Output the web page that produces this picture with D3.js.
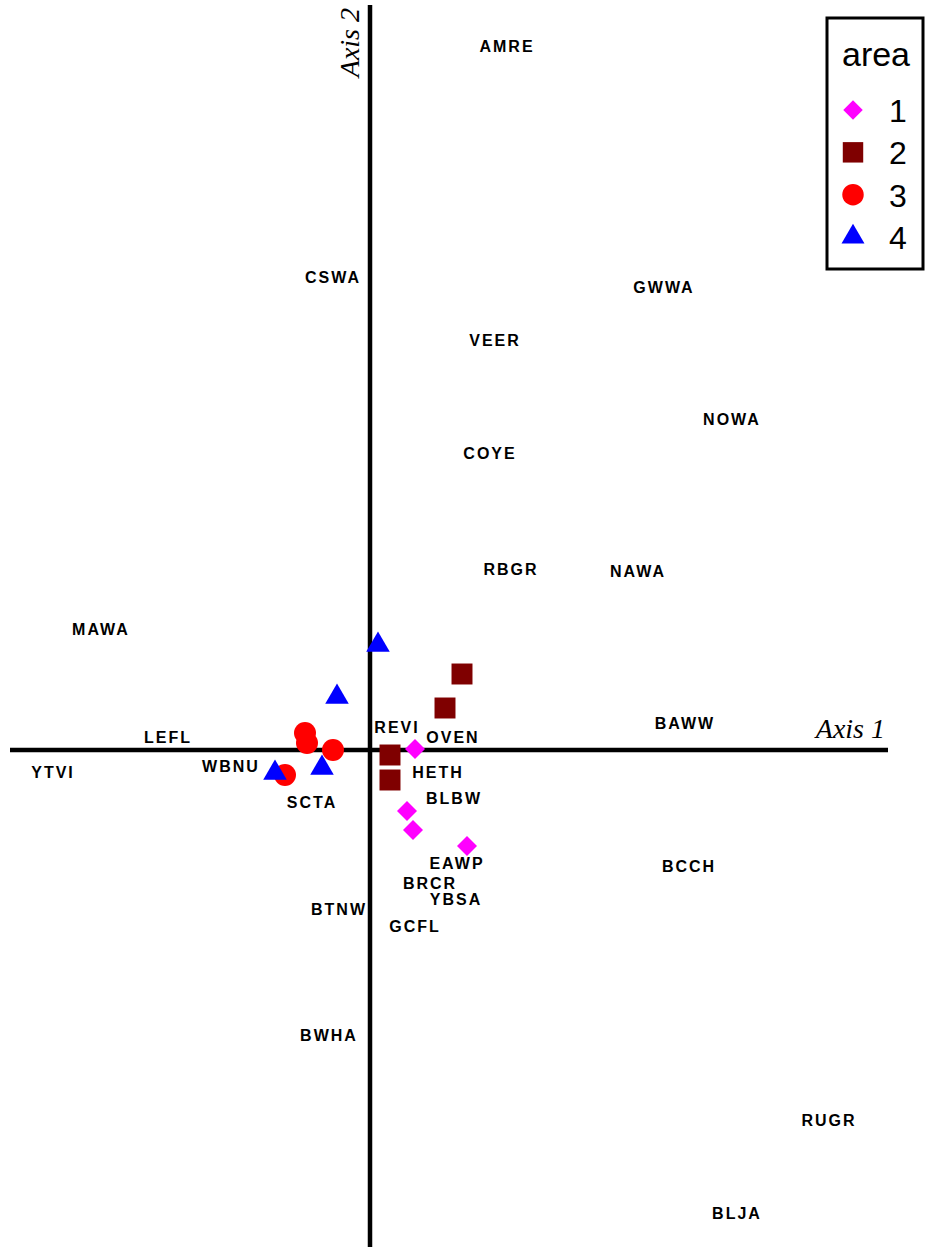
<!DOCTYPE html>
<html>
<head>
<meta charset="utf-8">
<script src="https://cdn.jsdelivr.net/npm/d3@7"></script>
<style>
  body { margin: 0; background: #fff; }
  .species { font-family: Arial, "Liberation Sans", sans-serif; font-weight: bold; font-size: 16px; letter-spacing: 2px; }
  .axis-title { font-family: "Times New Roman", "Liberation Serif", serif; font-style: italic; font-size: 28px; }
  .legend text { font-family: Arial, "Liberation Sans", sans-serif; }
</style>
</head>
<body>
<svg id="biplot"></svg>
<script>
// Scores des espèces (axe 1, axe 2)
const speciesNames = ["AMRE", "CSWA", "GWWA", "VEER", "NOWA", "COYE", "RBGR", "NAWA", "MAWA", "BAWW",
  "LEFL", "REVI", "OVEN", "YTVI", "WBNU", "HETH", "SCTA", "BLBW", "EAWP", "BCCH",
  "BRCR", "YBSA", "BTNW", "GCFL", "BWHA", "RUGR", "BLJA"];
const speciesAxis1 = [1.36, -0.38, 2.93, 1.24, 3.61, 1.19, 1.40, 2.67, -2.70, 3.14,
  -2.03, 0.26, 0.82, -3.18, -1.40, 0.67, -0.59, 0.83, 0.86, 3.18,
  0.59, 0.85, -0.32, 0.44, -0.42, 4.58, 3.66];
const speciesAxis2 = [7.04, 4.73, 4.63, 4.10, 3.31, 2.97, 1.81, 1.79, 1.21, 0.27,
  0.13, 0.23, 0.13, -0.22, -0.16, -0.22, -0.52, -0.48, -1.13, -1.16,
  -1.33, -1.49, -1.59, -1.76, -2.85, -3.70, -4.63];

// Scores des sites, par zone
const siteArea = [1, 1, 1, 1, 2, 2, 2, 2, 3, 3, 3, 3, 4, 4, 4, 4];
const siteAxis1 = [0.45, 0.37, 0.43, 0.97, 0.92, 0.75, 0.20, 0.20, -0.65, -0.63, -0.37, -0.85, 0.08, -0.33, -0.48, -0.95];
const siteAxis2 = [0.01, -0.61, -0.80, -0.96, 0.76, 0.42, -0.05, -0.30, 0.17, 0.07, 0.00, -0.25, 1.05, 0.53, -0.18, -0.23];

const areaLevels = [1, 2, 3, 4];
const areaColors = ["#ff00ff", "#7f0000", "#ff0000", "#0000ff"];
const areaShapes = [d3.symbolSquare, d3.symbolSquare, d3.symbolCircle, d3.symbolTriangle];
const areaSizes = [200, 440, 380, 240];
const areaRotate = [45, 0, 0, 0];

const width = 931, height = 1255;

const svg = d3.select("#biplot")
  .attr("width", width)
  .attr("height", height);

const x = d3.scaleLinear().domain([-3.6, 5.18]).range([10, 888]);
const y = d3.scaleLinear().domain([-4.97, 7.45]).range([1247, 5]);

// Axes
svg.append("line")
  .attr("x1", x(0)).attr("x2", x(0))
  .attr("y1", y.range()[1]).attr("y2", y.range()[0])
  .attr("stroke", "#000").attr("stroke-width", 4.5);

svg.append("line")
  .attr("x1", x.range()[0]).attr("x2", x.range()[1])
  .attr("y1", y(0)).attr("y2", y(0))
  .attr("stroke", "#000").attr("stroke-width", 4.5);

svg.append("text")
  .attr("class", "axis-title")
  .attr("transform", `translate(${x(0) - 11},8) rotate(-90)`)
  .attr("text-anchor", "end")
  .text("Axis 2");

svg.append("text")
  .attr("class", "axis-title")
  .attr("x", 885)
  .attr("y", y(0) - 12)
  .attr("text-anchor", "end")
  .text("Axis 1");

// Espèces
svg.selectAll(".species")
  .data(speciesNames)
  .enter().append("text")
  .attr("class", "species")
  .attr("x", (d, i) => x(speciesAxis1[i]) + 1)
  .attr("y", (d, i) => y(speciesAxis2[i]) + 6)
  .attr("text-anchor", "middle")
  .text(d => d);

// Sites
svg.selectAll(".site")
  .data(siteArea)
  .enter().append("path")
  .attr("class", "site")
  .attr("transform", (d, i) => `translate(${x(siteAxis1[i])},${y(siteAxis2[i])}) rotate(${areaRotate[d - 1]})`)
  .attr("d", d => d3.symbol().type(areaShapes[d - 1]).size(areaSizes[d - 1])())
  .attr("fill", d => areaColors[d - 1]);

// Légende
const legend = svg.append("g").attr("class", "legend");

legend.append("rect")
  .attr("x", 827).attr("y", 18)
  .attr("width", 96).attr("height", 251)
  .attr("fill", "#fff")
  .attr("stroke", "#000").attr("stroke-width", 3);

legend.append("text")
  .attr("x", 876).attr("y", 66)
  .attr("text-anchor", "middle")
  .style("font-size", "34px")
  .text("area");

const rowY = d3.scalePoint().domain(areaLevels).range([110, 237]);

legend.selectAll(".key")
  .data(areaLevels)
  .enter().append("path")
  .attr("class", "key")
  .attr("transform", d => `translate(853,${rowY(d)}) rotate(${areaRotate[d - 1]})`)
  .attr("d", d => d3.symbol().type(areaShapes[d - 1]).size(areaSizes[d - 1] * 0.95)())
  .attr("fill", d => areaColors[d - 1]);

legend.selectAll(".key-label")
  .data(areaLevels)
  .enter().append("text")
  .attr("class", "key-label")
  .attr("x", 898)
  .attr("y", d => rowY(d) + 12)
  .attr("text-anchor", "middle")
  .style("font-size", "32px")
  .text(d => d);
</script>
</body>
</html>
